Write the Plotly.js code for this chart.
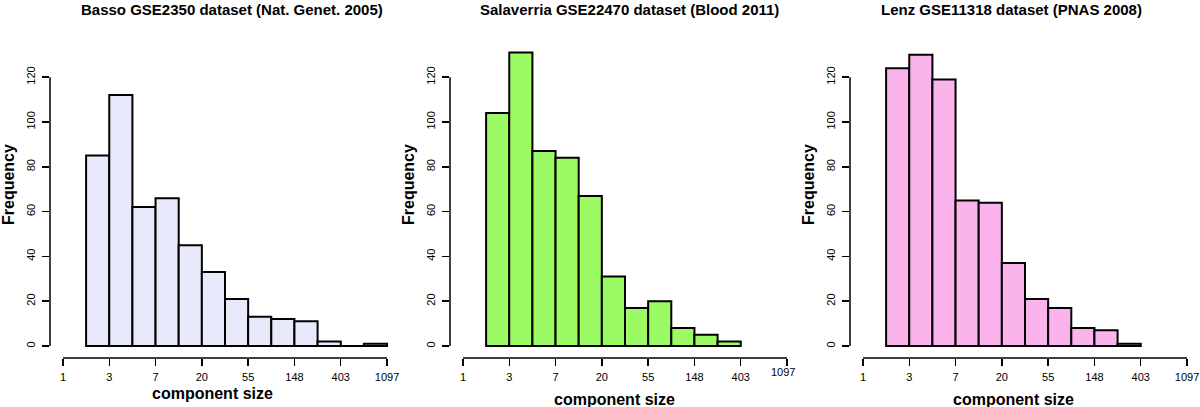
<!DOCTYPE html>
<html>
<head>
<meta charset="utf-8">
<script src="https://cdn.plot.ly/plotly-3.0.1.min.js"></script>
<style>
  html, body { margin: 0; padding: 0; background: #fff; }
  #chart { width: 1200px; height: 407px; }
</style>
</head>
<body>
<div id="chart"></div>
<script>
// ---- Data (bins on natural-log scale of component size) ----
const binEdges = [0.5, 1, 1.5, 2, 2.5, 3, 3.5, 4, 4.5, 5, 5.5, 6, 6.5, 7];
const xTickVals = [0, 1, 2, 3, 4, 5, 6, 7];
const xTickLabels = ['1', '3', '7', '20', '55', '148', '403', '1097'];
const yTickVals = [0, 20, 40, 60, 80, 100, 120];

const panelTitles = [
  'Basso GSE2350 dataset (Nat. Genet. 2005)',
  'Salaverria GSE22470 dataset (Blood 2011)',
  'Lenz GSE11318 dataset (PNAS 2008)'
];
const bassoCounts      = [85, 112, 62, 66, 45, 33, 21, 13, 12, 11, 2, 0, 1];
const salaverriaCounts = [104, 131, 87, 84, 67, 31, 17, 20, 8, 5, 2];
const lenzCounts       = [124, 130, 119, 65, 64, 37, 21, 17, 8, 7, 1];
const panelCounts = [bassoCounts, salaverriaCounts, lenzCounts];
const panelColors = ['#E8EAFB', '#9CFA64', '#FBB3EB'];

// ---- Layout geometry ----
const FONT = 'Liberation Sans, Arial, Helvetica, sans-serif';
const W = 1200, H = 407;
const xDomainsPx = [[50, 400], [450, 800], [850, 1200]];
const yDomain = [1 - 358 / H, 1 - 40 / H];
const xRange = [-0.28, 7.28];
const yRange = [-5.36, 136.6];

const traces = [];
const layout = {
  width: W, height: H,
  margin: {l: 0, r: 0, t: 0, b: 0},
  paper_bgcolor: '#ffffff',
  plot_bgcolor: 'rgba(0,0,0,0)',
  showlegend: false,
  bargap: 0,
  font: {family: FONT, color: '#000'},
  shapes: [],
  annotations: []
};

panelCounts.forEach((counts, i) => {
  const sfx = i === 0 ? '' : String(i + 1);
  const xa = 'x' + sfx, ya = 'y' + sfx;
  const centers = [], widths = [];
  for (let k = 0; k < counts.length; k++) {
    centers.push((binEdges[k] + binEdges[k + 1]) / 2);
    widths.push(binEdges[k + 1] - binEdges[k]);
  }
  traces.push({
    type: 'bar', x: centers, y: counts, width: widths,
    xaxis: xa, yaxis: ya,
    marker: {color: panelColors[i], line: {color: '#000', width: 2}},
    hoverinfo: 'x+y'
  });
  // empty bins are drawn as a flat border line on the baseline
  const zx = [], zy = [];
  counts.forEach((c, k) => {
    if (c === 0) { zx.push(binEdges[k], binEdges[k + 1], null); zy.push(0, 0, null); }
  });
  if (zx.length) {
    traces.push({type: 'scatter', mode: 'lines', x: zx, y: zy, xaxis: xa, yaxis: ya,
      line: {color: '#000', width: 2}, hoverinfo: 'skip'});
  }

  const ticktext = xTickLabels.slice();
  if (i === 1) ticktext[ticktext.length - 1] = '';

  layout['xaxis' + sfx] = {
    domain: [xDomainsPx[i][0] / W, xDomainsPx[i][1] / W],
    anchor: ya, range: xRange, fixedrange: true,
    tickmode: 'array', tickvals: xTickVals, ticktext: ticktext,
    ticks: 'outside', ticklen: 7, tickwidth: 1.5, tickcolor: '#000',
    ticklabelstandoff: 2,
    tickfont: {family: FONT, size: 11, color: '#000'},
    showgrid: false, zeroline: false, showline: false
  };
  layout['yaxis' + sfx] = {
    domain: yDomain, anchor: xa, range: yRange, fixedrange: true,
    tickmode: 'array', tickvals: yTickVals,
    ticks: 'outside', ticklen: 7, tickwidth: 1.5, tickcolor: '#000',
    tickangle: -90, ticklabelstandoff: 3,
    tickfont: {family: FONT, size: 11, color: '#000'},
    showgrid: false, zeroline: false, showline: false
  };

  // R-style axis lines spanning only first..last tick
  layout.shapes.push({type: 'line', xref: xa, yref: ya + ' domain',
    x0: xTickVals[0], x1: xTickVals[xTickVals.length - 1], y0: 0, y1: 0,
    line: {color: '#000', width: 1.5}});
  layout.shapes.push({type: 'line', xref: xa + ' domain', yref: ya,
    x0: 0, x1: 0, y0: yTickVals[0], y1: yTickVals[yTickVals.length - 1],
    line: {color: '#000', width: 1.5}});

  // panel title
  const titleCx = [232, 629, 1011][i];
  layout.annotations.push({xref: 'paper', yref: 'paper', x: titleCx / W, y: 1 - 10 / H,
    xanchor: 'center', yanchor: 'middle', showarrow: false,
    text: '<b>' + panelTitles[i] + '</b>', font: {family: FONT, size: 15, color: '#000'}});
  // x axis title
  const xtCx = [212, 614, 1013][i];
  const xtCy = [393, 399, 399][i];
  layout.annotations.push({xref: 'paper', yref: 'paper', x: xtCx / W, y: 1 - xtCy / H,
    xanchor: 'center', yanchor: 'middle', showarrow: false,
    text: '<b>component size</b>', font: {family: FONT, size: 16, color: '#000'}});
  // y axis title
  layout.annotations.push({xref: 'paper', yref: 'paper', x: (xDomainsPx[i][0] - 42) / W, y: 1 - 185 / H,
    xanchor: 'center', yanchor: 'middle', showarrow: false, textangle: -90,
    text: '<b>Frequency</b>', font: {family: FONT, size: 16, color: '#000'}});
});

// panel 2: last x tick label sits slightly higher/left in the original
layout.annotations.push({xref: 'x2', yref: 'paper', x: xTickVals[xTickVals.length - 1], y: 1 - 372 / H,
  xshift: -4, xanchor: 'center', yanchor: 'middle', showarrow: false,
  text: xTickLabels[xTickLabels.length - 1], font: {family: FONT, size: 11, color: '#000'}});

Plotly.newPlot('chart', traces, layout, {displayModeBar: false, staticPlot: true});
</script>
</body>
</html>
